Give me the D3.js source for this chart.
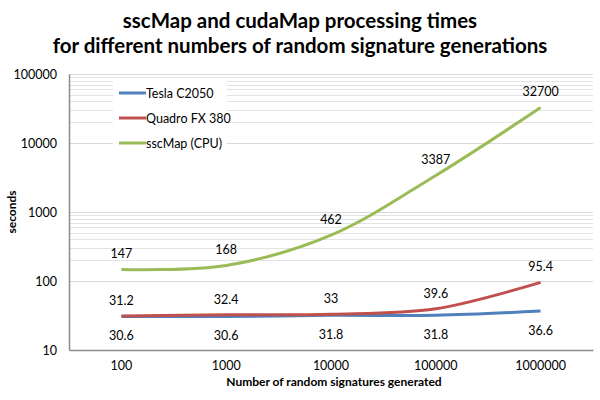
<!DOCTYPE html>
<html><head><meta charset="utf-8">
<script src="https://cdn.jsdelivr.net/npm/d3@7"></script>
<style>body{margin:0;background:#fff}svg{display:block;font-family:Lato,"Open Sans",sans-serif}</style>
</head><body><svg id="c" width="600" height="400"></svg>
<script>
const categories = ["100","1000","10000","100000","1000000"];
const tesla = [30.6, 30.6, 31.8, 31.8, 36.6];
const quadro = [31.2, 32.4, 33, 39.6, 95.4];
const sscmap = [147, 168, 462, 3387, 32700];
const yTicks = [10, 100, 1000, 10000, 100000];
const seriesNames = ["Tesla C2050", "Quadro FX 380", "sscMap (CPU)"];
const colors = ["#4F81BD", "#C0504D", "#9BBB59"];
const titleLines = ["sscMap and cudaMap processing times", "for different numbers of random signature generations"];

const svg = d3.select("#c");
const L = 69, R = 593, T = 74, B = 350;
const x = d3.scaleBand().domain(categories).range([L, R]);
const xc = c => x(c) + x.bandwidth() / 2;
const y = d3.scaleLog().domain([10, 100000]).range([B, T]);

// minor gridlines (only in some decades, as in reference)
const minor = [];
[100, 10000].forEach(d => { for (let k = 2; k <= 9; k++) minor.push(d * k); });
svg.append("g").selectAll("line").data(minor).join("line")
  .attr("x1", L).attr("x2", R).attr("y1", d => Math.round(y(d)) + 0.5).attr("y2", d => Math.round(y(d)) + 0.5)
  .attr("stroke", "#e3e3e3").attr("stroke-width", 1);
svg.append("g").selectAll("line").data(yTicks.slice(1)).join("line")
  .attr("x1", L).attr("x2", R).attr("y1", d => Math.round(y(d)) + 0.5).attr("y2", d => Math.round(y(d)) + 0.5)
  .attr("stroke", "#d9d9d9").attr("stroke-width", 1);

// axes
const yAxis = d3.axisLeft(y).tickValues(yTicks).tickFormat(d3.format("d")).tickSize(0).tickPadding(12);
const gy = svg.append("g").attr("transform", `translate(${L},0)`).call(yAxis);
gy.select(".domain").attr("stroke", "#8c8c8c").attr("stroke-width", 1.5);
gy.selectAll("text").attr("font-size", 12.5).attr("fill", "#000").attr("font-family", "Lato");
const xAxis = d3.axisBottom(x).tickSize(0).tickPadding(11);
const gx = svg.append("g").attr("transform", `translate(0,${B})`).call(xAxis);
gx.select(".domain").attr("stroke", "#8c8c8c").attr("stroke-width", 1.5);
gx.selectAll("text").attr("font-size", 12.5).attr("fill", "#000").attr("font-family", "Lato");

// lines
const data = [tesla, quadro, sscmap];
const line = d3.line().x((d, i) => xc(categories[i])).y(d => y(d)).curve(d3.curveCatmullRom.alpha(0.5));
data.forEach((s, i) => {
  svg.append("path").datum(s).attr("d", line).attr("fill", "none")
    .attr("stroke", colors[i]).attr("stroke-width", 3).attr("stroke-linecap", "butt");
});

// data labels
const lab = (s, dy) => svg.append("g").selectAll("text").data(s).join("text")
  .attr("x", (d, i) => xc(categories[i])).attr("y", d => y(d) + dy)
  .attr("text-anchor", "middle").attr("font-size", 12.5).text(d => d);
lab(tesla, 24);
lab(quadro, -11);
lab(sscmap, -11);

// legend
const lg = svg.append("g");
lg.append("rect").attr("x", 113).attr("y", 78).attr("width", 114).attr("height", 72).attr("fill", "#fff");
seriesNames.forEach((n, i) => {
  const yy = 93 + i * 25;
  lg.append("line").attr("x1", 119).attr("x2", 146).attr("y1", yy).attr("y2", yy)
    .attr("stroke", colors[i]).attr("stroke-width", 3);
  lg.append("text").attr("x", 146).attr("y", yy + 4.5).attr("font-size", 12.5).text(n);
});

// titles
svg.selectAll(".t").data(titleLines).join("text")
  .attr("x", 300).attr("y", (d, i) => 28 + i * 25).attr("text-anchor", "middle")
  .attr("font-size", 20.5).attr("font-weight", "bold").text(d => d);
svg.append("text").attr("x", 334).attr("y", 386).attr("text-anchor", "middle")
  .attr("font-size", 12).attr("font-weight", "bold").text("Number of random signatures generated");
svg.append("text").attr("transform", "translate(16,212) rotate(-90)").attr("text-anchor", "middle")
  .attr("font-size", 12).attr("font-weight", "bold").text("seconds");
</script></body></html>
